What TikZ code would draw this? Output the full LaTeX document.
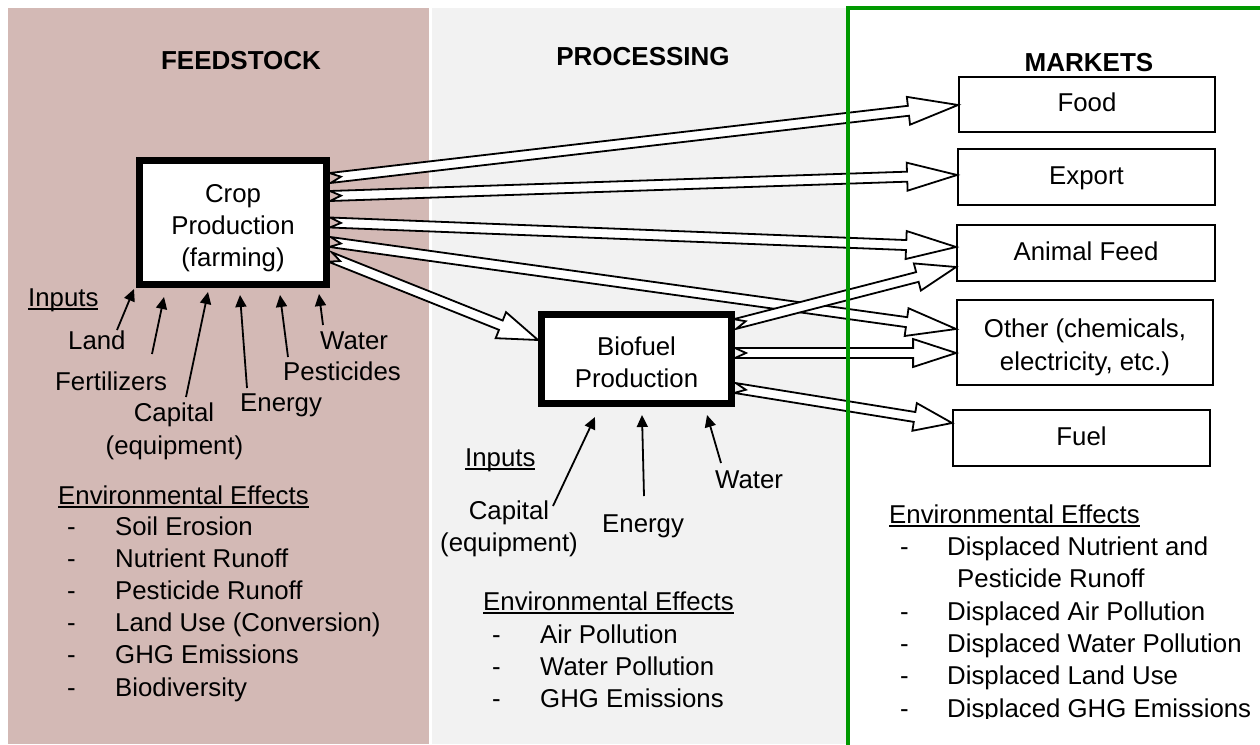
\documentclass[tikz,border=0pt]{standalone}
\usepackage{fontspec}
\setmainfont{Liberation Sans}
\usetikzlibrary{calc,arrows.meta}
\definecolor{feedbg}{HTML}{D3B9B5}
\definecolor{procbg}{HTML}{F2F2F2}
\definecolor{mktgreen}{HTML}{009900}
\newcommand\ulinetext[1]{\setbox0\hbox{#1}\rlap{\rule[-3.9pt]{\wd0}{1.8pt}}\box0}
\newcommand\blockarrow[3][50pt]{%
  \coordinate (bah) at ($(#3)!#1!(#2)$);
  \draw[blockarr] ($(#2)!5pt!90:(#3)$) -- ($(bah)!5pt!90:(#3)$) -- ($(bah)!14pt!90:(#3)$) -- (#3)
    -- ($(bah)!14pt!-90:(#3)$) -- ($(bah)!5pt!-90:(#3)$) -- ($(#2)!5pt!-90:(#3)$) -- ($(#2)!11pt!(#3)$) -- cycle;}
\begin{document}
\begin{tikzpicture}[x=1pt,y=-1pt,
  font=\fontsize{25.8}{32.2}\selectfont,
  blockarr/.style={draw, fill=white, line width=1.8pt, line join=miter},
  inarrow/.style={-{Triangle[length=12pt,width=11pt]}, line width=1.8pt},
  bigbox/.style={draw, fill=white, line width=7pt, align=center, inner sep=0pt},
  mktbox/.style={draw, fill=white, line width=1.8pt, align=center, inner sep=0pt},
  onebox/.style={mktbox, text height=19pt, text depth=5pt},
  lbl/.style={anchor=base west, inner sep=0pt},
  clbl/.style={anchor=base, inner sep=0pt},
  hdr/.style={font=\fontsize{26}{30}\selectfont\bfseries, inner sep=0pt}]
\useasboundingbox (0,0) rectangle (1260,744);
\clip (0,0) rectangle (1260,744);
\fill[white] (0,0) rectangle (1260,744);
% panels
\fill[feedbg] (8,8) rectangle (429,744);
\fill[procbg] (432,8) rectangle (847,744);
% headers
\node[hdr] (hfeed) at (241,61) {FEEDSTOCK};
\node[hdr] (hproc) at (643,57) {PROCESSING};
\node[hdr] (hmkt) at (1089,63) {MARKETS};
% boxes (placed first so anchors exist; redrawn later on top)
\node[bigbox, minimum width=187pt, minimum height=124pt] (crop) at (233,222.5) {\rule{0pt}{29pt}Crop\\Production\\(farming)};
\node[bigbox, minimum width=190pt, minimum height=89pt] (bio) at (636.5,359) {\rule{0pt}{25pt}Biofuel\\Production};
\node[onebox, minimum width=256pt, minimum height=55pt] (food) at (1087,104.5) {Food};
\node[onebox, minimum width=257pt, minimum height=56pt] (export) at (1086.5,177) {Export};
\node[onebox, minimum width=258pt, minimum height=56pt] (feed) at (1086,253) {Animal Feed};
\node[mktbox, minimum width=256pt, minimum height=85pt] (other) at (1085,342.5) {\rule{0pt}{28.4pt}Other (chemicals,\\electricity, etc.)};
\node[onebox, minimum width=257pt, minimum height=56pt] (fuel) at (1081.5,438) {Fuel};
% arrow end points
\coordinate (s1) at ($(crop.east)+(0,-44.5)$);
\coordinate (s2) at ($(crop.east)+(0,-26.5)$);
\coordinate (s3) at ($(crop.east)+(0,0)$);
\coordinate (s4) at ($(crop.east)+(0,19.5)$);
\coordinate (s5) at ($(crop.east)+(0,34.5)$);
\coordinate (s6) at ($(bio.east)+(0,-35)$);
\coordinate (s7) at ($(bio.east)+(0,-6)$);
\coordinate (s8) at ($(bio.east)+(0,29)$);
\coordinate (e1) at ($(food.west)+(0,0.5)$);
\coordinate (e2) at ($(export.west)+(0,-2)$);
\coordinate (e3) at ($(feed.west)+(0,-6)$);
\coordinate (e4) at ($(other.west)+(0,-13.5)$);
\coordinate (e5) at ($(bio.west)+(0,-19)$);
\coordinate (e6) at ($(feed.west)+(0,14)$);
\coordinate (e7) at ($(other.west)+(0,10.5)$);
\coordinate (e8) at ($(fuel.west)+(0,-15)$);
% block arrows
\blockarrow[50pt]{s1}{e1}
\blockarrow[50pt]{s2}{e2}
\blockarrow[50pt]{s3}{e3}
\blockarrow[50pt]{s4}{e4}
\blockarrow[40pt]{s5}{e5}
\blockarrow[40pt]{s6}{e6}
\blockarrow[43pt]{s7}{e7}
\blockarrow[38pt]{s8}{e8}
% redraw boxes on top
\node[bigbox, minimum width=187pt, minimum height=124pt] at (crop) {\rule{0pt}{29pt}Crop\\Production\\(farming)};
\node[bigbox, minimum width=190pt, minimum height=89pt] at (bio) {\rule{0pt}{25pt}Biofuel\\Production};
% markets border
\draw[mktgreen, line width=4pt] (848,760) -- (848,8) -- (1270,8);
% crop inputs
\node[lbl] (cin) at (28,306) {\ulinetext{Inputs}};
\node[lbl] (cland) at (68,349) {Land};
\node[lbl] (cfert) at (55,390) {Fertilizers};
\node[clbl] (ccap) at (174,421) {Capital};
\node[clbl] (cequip) at (174.5,454) {(equipment)};
\node[lbl] (cener) at (240,411) {Energy};
\node[lbl] (cpest) at (283,380) {Pesticides};
\node[lbl] (cwat) at (320,349) {Water};
\coordinate (tl1) at (117,330); \coordinate (hl1) at (134,289);
\coordinate (tl2) at (152,354); \coordinate (hl2) at (164,297);
\coordinate (tl3) at (186,397); \coordinate (hl3) at (208,292);
\coordinate (tl4) at (247,388); \coordinate (hl4) at (240,295);
\coordinate (tl5) at (288,357); \coordinate (hl5) at (280,295);
\coordinate (tl6) at (323,325); \coordinate (hl6) at (319,294);
\foreach \i in {1,...,6} \draw[inarrow] (tl\i) -- (hl\i);
% crop effects
\node[lbl] (cee) at (58,504) {\ulinetext{Environmental Effects}};
\foreach \t [count=\i from 0] in {Soil Erosion,Nutrient Runoff,Pesticide Runoff,Land Use (Conversion),GHG Emissions,Biodiversity}
  \node[lbl] (ce\i) at (67,535+32.2*\i) {\makebox[48pt][l]{-}\t};
% biofuel inputs
\node[lbl] (bin) at (465,466) {\ulinetext{Inputs}};
\node[lbl] (bwat) at (715,488) {Water};
\node[clbl] (bcap) at (509,519) {Capital};
\node[clbl] (bequip) at (509,551) {(equipment)};
\node[lbl] (bener) at (602,532) {Energy};
\coordinate (tb1) at (553,506); \coordinate (hb1) at (595,417);
\coordinate (tb2) at (644,496); \coordinate (hb2) at (642,415);
\coordinate (tb3) at (721,463); \coordinate (hb3) at (707,415);
\foreach \i in {1,2,3} \draw[inarrow] (tb\i) -- (hb\i);
% biofuel effects
\node[lbl] (bee) at (483,610) {\ulinetext{Environmental Effects}};
\foreach \t [count=\i from 0] in {Air Pollution,Water Pollution,GHG Emissions}
  \node[lbl] (be\i) at (492,643+32*\i) {\makebox[48pt][l]{-}\t};
% markets effects
\node[lbl] (mee) at (889,523) {\ulinetext{Environmental Effects}};
\node[lbl] (me1) at (900,555) {\makebox[47pt][l]{-}Displaced Nutrient and};
\node[lbl] (me1b) at (957,587) {Pesticide Runoff};
\node[lbl] (me2) at (900,620) {\makebox[47pt][l]{-}Displaced Air Pollution};
\node[lbl] (me3) at (900,652) {\makebox[47pt][l]{-}Displaced Water Pollution};
\node[lbl] (me4) at (900,684) {\makebox[47pt][l]{-}Displaced Land Use};
\begin{scope}
\clip (850,690) rectangle (1260,718);
\node[lbl] (me5) at (900,717) {\makebox[47pt][l]{-}Displaced GHG Emissions};
\end{scope}
\end{tikzpicture}
\end{document}
